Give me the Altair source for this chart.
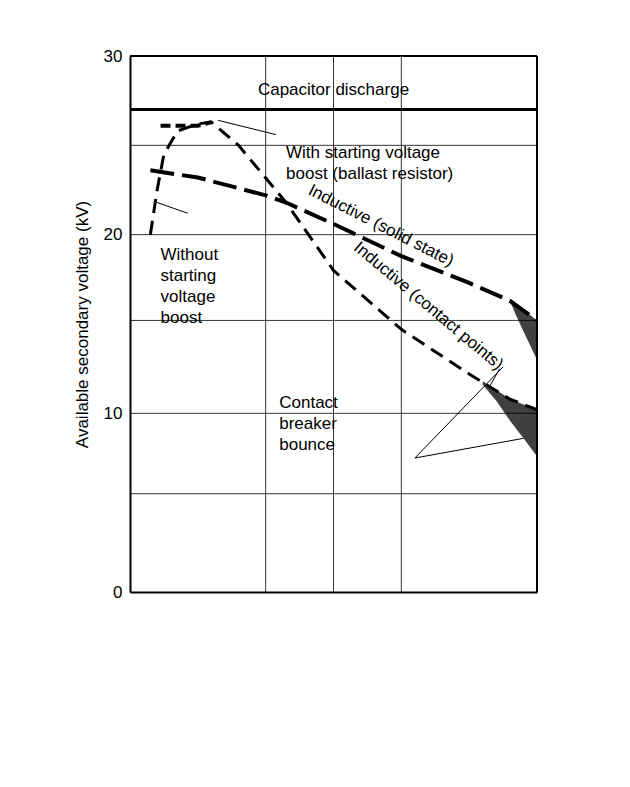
import altair as alt
import pandas as pd

# curves (rev/min, kV)
cap_x = [0, 6000]
cap_y = [27.0, 27.0]

solid_x = [300, 1000, 2000, 2300, 3000, 4000, 5000, 5600, 6000]
solid_y = [23.6, 23.2, 22.2, 21.8, 20.6, 18.8, 17.3, 16.3, 15.2]

points_x = [300, 400, 500, 700, 1000, 1200, 1600, 2300, 3000, 4000, 5000, 5600, 6000]
points_y = [20.0, 22.5, 24.5, 25.8, 26.2, 26.3, 25.0, 21.8, 18.0, 14.7, 12.2, 10.8, 10.2]

boost_x = [450, 700, 1000, 1200]
boost_y = [26.1, 26.1, 26.1, 26.3]

# bounce bands (upper, lower)
band1_x = [5600, 5700, 5800, 5900, 6000]
band1_hi = [16.3, 16.0, 15.8, 15.5, 15.2]
band1_lo = [16.3, 15.4, 14.6, 13.8, 13.0]
band2_x = [5200, 5400, 5600, 5800, 6000]
band2_hi = [11.8, 11.3, 10.8, 10.5, 10.2]
band2_lo = [11.6, 10.7, 9.6, 8.6, 7.6]

grid_y = [5.5, 10, 15.2, 20, 25]
grid_x = [2000, 3000, 4000]

xs = alt.Scale(domain=[0, 6000], nice=False)
ys = alt.Scale(domain=[0, 30], nice=False)
X = lambda: alt.X('x:Q', scale=xs, title='Engine speed (rev/min)',
                  axis=alt.Axis(values=[0, 2000, 4000, 6000], format='d', grid=False, ticks=False,
                                labelFontSize=17, titleFontSize=17, titleFontWeight='normal',
                                labelPadding=8, titlePadding=14, labelColor='black',
                                domainColor='black', domainWidth=2))
Y = lambda: alt.Y('y:Q', scale=ys, title='Available secondary voltage (kV)',
                  axis=alt.Axis(values=[0, 10, 20, 30], grid=False, ticks=False,
                                labelFontSize=17, titleFontSize=17, titleFontWeight='normal',
                                labelPadding=8, titlePadding=12, labelColor='black',
                                domainColor='black', domainWidth=2))

def line(xv, yv, dash, w):
    df = pd.DataFrame({'x': xv, 'y': yv})
    return alt.Chart(df).mark_line(color='black', strokeWidth=w, strokeDash=dash).encode(x=X(), y=Y())

hgrid = alt.Chart(pd.DataFrame({'y': grid_y})).mark_rule(color='black', strokeWidth=0.8).encode(y=alt.Y('y:Q', scale=ys))
vgrid = alt.Chart(pd.DataFrame({'x': grid_x})).mark_rule(color='black', strokeWidth=0.8).encode(x=alt.X('x:Q', scale=xs))
top = alt.Chart(pd.DataFrame({'y': [30]})).mark_rule(color='black', strokeWidth=2).encode(y=alt.Y('y:Q', scale=ys))
right = alt.Chart(pd.DataFrame({'x': [6000]})).mark_rule(color='black', strokeWidth=2).encode(x=alt.X('x:Q', scale=xs))

def band(xv, hi, lo):
    df = pd.DataFrame({'x': xv, 'y': hi, 'y2': lo})
    return alt.Chart(df).mark_area(color='black', opacity=0.75).encode(x=X(), y=Y(), y2='y2:Q')

labels = pd.DataFrame({
    'x': [3000, 2300, 3700, 4400, 450, 2200],
    'y': [28.1, 25.0, 20.5, 16.0, 19.3, 11.0],
    't': ['Capacitor discharge', 'With starting voltage|boost (ballast resistor)',
          'Inductive (solid state)', 'Inductive (contact points)',
          'Without|starting|voltage|boost', 'Contact|breaker|bounce'],
    'a': [0, 0, 27, 40, 0, 0],
})
labels['t'] = labels['t'].str.split('|')
txt_c = alt.Chart(labels.iloc[[0, 2, 3]]).mark_text(fontSize=17, color='black').encode(
    x=alt.X('x:Q', scale=xs), y=alt.Y('y:Q', scale=ys), text='t', angle=alt.Angle('a:Q', scale=None))
txt_l = alt.Chart(labels.iloc[[1, 4, 5]]).mark_text(fontSize=17, color='black', align='left',
                                                     baseline='top', lineHeight=21).encode(
    x=alt.X('x:Q', scale=xs), y=alt.Y('y:Q', scale=ys), text='t')

lead = pd.DataFrame({
    'x': [1300, 850, 4200, 4200, 5300],
    'y': [26.4, 21.2, 7.5, 7.5, 11.5],
    'x2': [2150, 400, 5500, 5800, 5450],
    'y2': [25.6, 21.8, 12.6, 8.6, 12.5],
})
leaders = alt.Chart(lead).mark_rule(color='black', strokeWidth=1).encode(
    x=alt.X('x:Q', scale=xs), y=alt.Y('y:Q', scale=ys), x2=alt.X2('x2:Q'), y2=alt.Y2('y2:Q'))

chart = alt.layer(
    hgrid, vgrid, top, right,
    band(band1_x, band1_hi, band1_lo), band(band2_x, band2_hi, band2_lo),
    line(cap_x, cap_y, [1, 0], 3),
    line(solid_x, solid_y, [24, 8], 4),
    line(points_x, points_y, [14, 8], 3),
    line(boost_x, boost_y, [10, 5], 4),
    leaders, txt_c, txt_l,
).properties(
    width=407, height=536,
    autosize=alt.AutoSizeParams(type='none'),
    padding={'left': 122, 'top': 48, 'right': 20, 'bottom': 10},
    title=alt.TitleParams(
        ['Fig. 9.35   Comparison of available secondary voltage',
         'over normal speed range with different ignition', 'systems'],
        orient='bottom', anchor='start', fontSize=20, fontWeight='normal',
        offset=30, dx=-116, lineHeight=24),
).configure_view(stroke=None).configure(font='Liberation Sans')

chart.save('out.html', embed_options={'renderer': 'svg', 'actions': False})
